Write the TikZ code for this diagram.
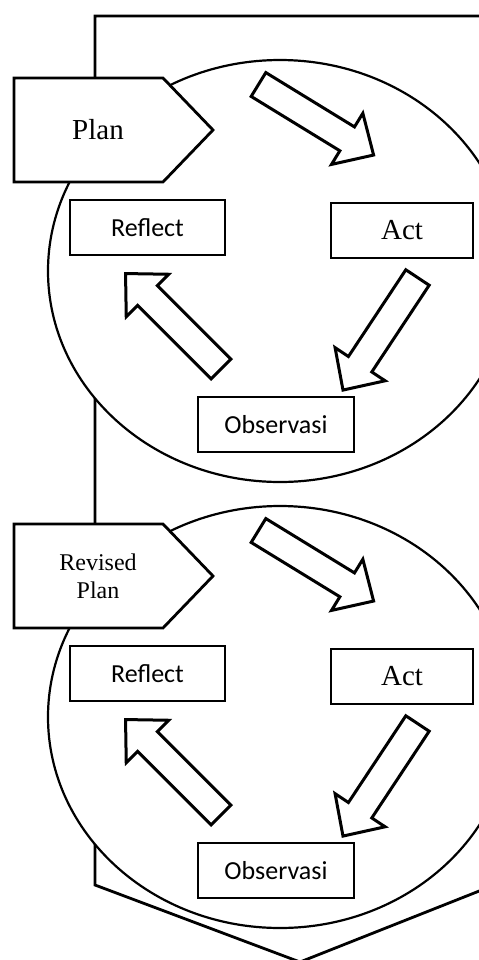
\documentclass[tikz,border=0pt]{standalone}
\usepackage{fontspec}
\setmainfont{Liberation Serif}
\newfontfamily\calibrifont{Carlito}
\usetikzlibrary{positioning}
\tikzstyle{stage} = [rectangle, draw, fill=white, line width=1.4pt, minimum height=27.5pt, inner sep=0pt]
\tikzstyle{sansstage} = [stage, font=\calibrifont\fontsize{13}{15}\selectfont]
\tikzstyle{serifstage} = [stage, font=\fontsize{14.5}{17}\selectfont]
\tikzstyle{loopring} = [draw, fill=white, line width=1.1pt]
\tikzstyle{outerframe} = [draw, fill=white, line width=1.4pt]
\tikzset{pics/cyclearrow/.style={code={
  \draw[fill=white, line width=1.5pt] (0,-14) -- (104,-14) -- (104,-30) -- (135,0) -- (104,30) -- (104,14) -- (0,14) -- cycle;
}}}

\begin{document}
\begin{tikzpicture}[x=0.5pt, y=-0.5pt]
    \useasboundingbox (0,0) rectangle (478,960);
    % big downward arrow behind both cycles
    \draw[outerframe] (95,16) -- (507,16) -- (507,880) -- (300,962) -- (95,885) -- cycle;

    \foreach \i/\dy/\fs/\bs/\plantext in {1/0/14.5/17/Plan, 2/446/12/14/{Revised\\Plan}} {
    \begin{scope}[shift={(0,\dy)}]
        \draw[loopring] (280,271) ellipse [x radius=116pt, y radius=105.5pt];
        \draw[outerframe] (14,78) -- (163,78) -- (213,130) -- (163,182) -- (14,182) -- cycle;
        \node[align=center, font=\fontsize{\fs}{\bs}\selectfont] (plan\i) at (98,130) {\plantext};

        \node[sansstage, minimum width=77.5pt] (reflect\i) at (147.5,227.5) {Reflect};
        \node[serifstage, minimum width=71pt] (act\i) at (402,230.5) {Act};
        \node[sansstage, minimum width=78pt] (obs\i) at (276,424.5) {Observasi};

        \pic[rotate=-31.5] at (258.5,84.5) {cyclearrow};
        \pic[rotate=-123.5] at (417.5,277.5) {cyclearrow};
        \pic[rotate=135] at (221,369) {cyclearrow};
    \end{scope}
    }
\end{tikzpicture}
\end{document}
